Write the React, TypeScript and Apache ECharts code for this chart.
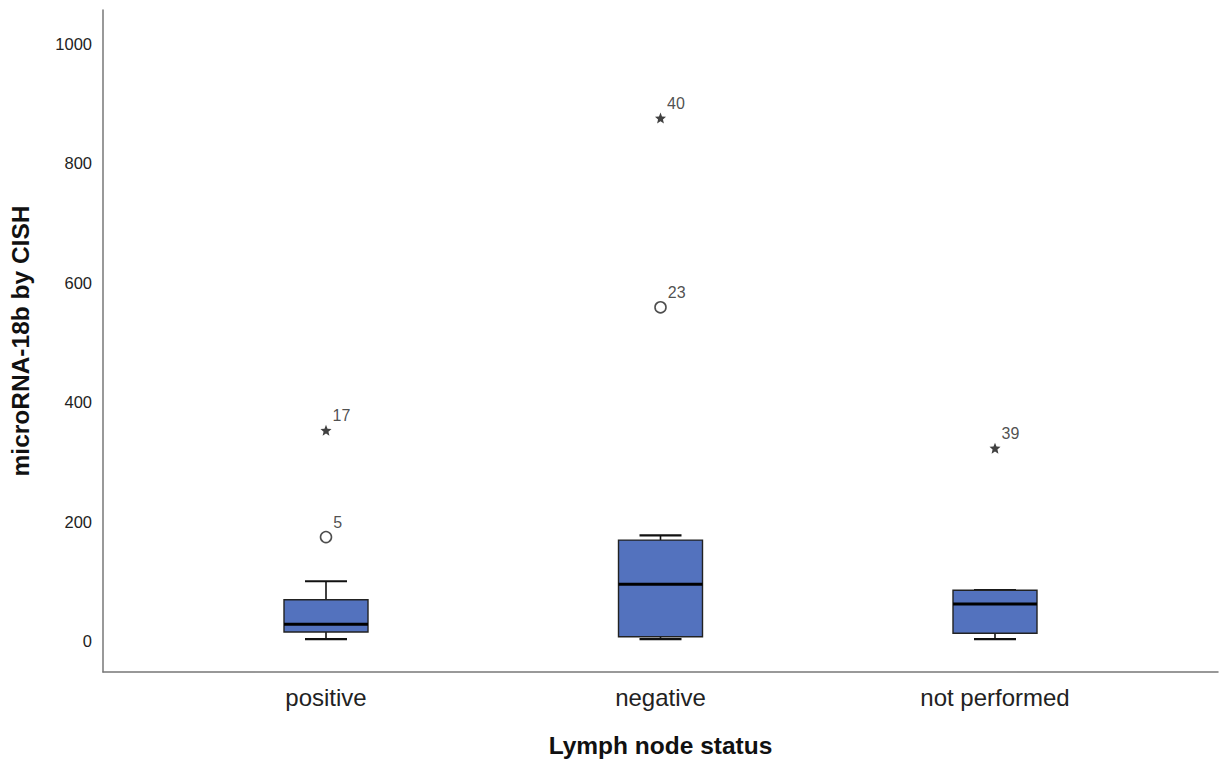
import React, { useEffect, useRef } from "react";
import * as echarts from "echarts";

const CATEGORIES = ["positive", "negative", "not performed"];
// [position, min, Q1, median, Q3, max]
const BOX_STATS = [
  [1, 3, 15, 28, 69, 100],
  [2, 3, 7, 95, 169, 177],
  [3, 3, 13, 62, 85, 85],
];
const OUTLIERS_CIRCLE = [
  { pos: 1, value: 174, id: "5" },
  { pos: 2, value: 559, id: "23" },
];
const OUTLIERS_STAR = [
  { pos: 1, value: 353, id: "17" },
  { pos: 2, value: 876, id: "40" },
  { pos: 3, value: 323, id: "39" },
];
const Y_TICKS = [0, 200, 400, 600, 800, 1000];

const BOX_W = 84;
const CAP_W = 42;
const FONT = "'Liberation Sans', Arial, sans-serif";
const STAR =
  "path://M0,-10 L2.6,-3.6 9.5,-3.1 4.2,1.4 5.9,8.1 0,4.4 -5.9,8.1 -4.2,1.4 -9.5,-3.1 -2.6,-3.6 Z";

export default function App() {
  const ref = useRef<HTMLDivElement>(null);
  useEffect(() => {
    if (!ref.current) return;
    const chart = echarts.init(ref.current, null, { renderer: "svg" });
    const label = {
      show: true,
      position: "right",
      distance: 0,
      offset: [1, -15],
      formatter: "{b}",
      color: "#222",
      fontSize: 16,
      fontFamily: FONT,
    };
    chart.setOption({
      animation: false,
      backgroundColor: "#fff",
      grid: { left: 103, right: 3, top: 10, bottom: 91 },
      xAxis: {
        type: "value",
        min: 1 / 3,
        max: 11 / 3,
        splitLine: { show: false },
        axisTick: { show: false },
        axisLine: { show: true, onZero: false, lineStyle: { color: "#777", width: 1.5 } },
        axisLabel: {
          customValues: [1, 2, 3],
          formatter: (v: number) => CATEGORIES[Math.round(v) - 1] ?? "",
          color: "#222",
          fontSize: 24,
          fontFamily: FONT,
          margin: 13,
        },
        name: "Lymph node status",
        nameLocation: "middle",
        nameGap: 61,
        nameTextStyle: { fontSize: 24.5, fontWeight: "bold", color: "#111", fontFamily: FONT },
      },
      yAxis: {
        type: "value",
        min: -52,
        max: 1057,
        splitLine: { show: false },
        axisTick: { show: false },
        axisLine: { show: true, onZero: false, lineStyle: { color: "#777", width: 1.5 } },
        axisLabel: {
          customValues: Y_TICKS,
          formatter: (v: number) => String(v),
          color: "#222",
          fontSize: 16.5,
          fontFamily: FONT,
          margin: 11,
        },
        name: "microRNA-18b by CISH",
        nameLocation: "middle",
        nameGap: 70,
        nameTextStyle: { fontSize: 24.5, fontWeight: "bold", color: "#111", fontFamily: FONT },
      },
      series: [
        {
          type: "custom",
          data: BOX_STATS,
          encode: { x: 0, y: [1, 2, 3, 4, 5] },
          renderItem: (params: any, api: any) => {
            const x = api.value(0);
            const lo = api.coord([x, api.value(1)]);
            const q1 = api.coord([x, api.value(2)]);
            const med = api.coord([x, api.value(3)]);
            const q3 = api.coord([x, api.value(4)]);
            const hi = api.coord([x, api.value(5)]);
            const cx = lo[0];
            const wStyle = { stroke: "#111", lineWidth: 1.6 };
            return {
              type: "group",
              children: [
                { type: "line", shape: { x1: cx, y1: hi[1], x2: cx, y2: q3[1] }, style: wStyle },
                { type: "line", shape: { x1: cx, y1: q1[1], x2: cx, y2: lo[1] }, style: wStyle },
                { type: "line", shape: { x1: cx - CAP_W / 2, y1: hi[1], x2: cx + CAP_W / 2, y2: hi[1] }, style: { stroke: "#111", lineWidth: 2.2 } },
                { type: "line", shape: { x1: cx - CAP_W / 2, y1: lo[1], x2: cx + CAP_W / 2, y2: lo[1] }, style: { stroke: "#111", lineWidth: 2.2 } },
                {
                  type: "rect",
                  shape: { x: cx - BOX_W / 2, y: q3[1], width: BOX_W, height: q1[1] - q3[1] },
                  style: { fill: "#5372be", stroke: "#222", lineWidth: 1.4 },
                },
                { type: "line", shape: { x1: cx - BOX_W / 2, y1: med[1], x2: cx + BOX_W / 2, y2: med[1] }, style: { stroke: "#000", lineWidth: 3 } },
              ],
            };
          },
        },
        {
          type: "scatter",
          symbol: "circle",
          symbolSize: 11,
          itemStyle: { color: "#fff", borderColor: "#222", borderWidth: 1.6 },
          data: OUTLIERS_CIRCLE.map((o) => ({ value: [o.pos, o.value], name: o.id })),
          label,
        },
        {
          type: "scatter",
          symbol: STAR,
          symbolSize: 11,
          itemStyle: { color: "#111" },
          data: OUTLIERS_STAR.map((o) => ({ value: [o.pos, o.value], name: o.id })),
          label,
        },
      ],
    });
    return () => chart.dispose();
  }, []);
  return (
    <div
      ref={ref}
      style={{ position: "fixed", left: 0, top: 0, width: 1221, height: 763, background: "#fff" }}
    />
  );
}
